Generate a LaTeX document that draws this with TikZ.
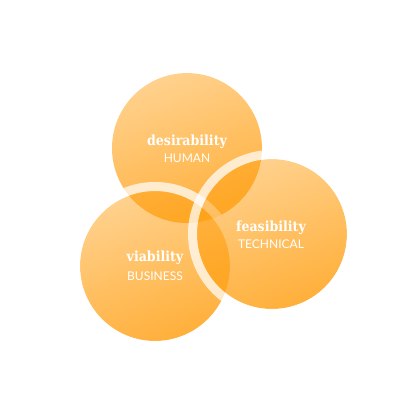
\documentclass[tikz,border=0pt]{standalone}
\usepackage{fontspec}
\setmainfont{DejaVu Serif}
\newfontfamily\titleserif{DejaVu Serif Condensed}
\newfontfamily\labsans{Lato}
\usetikzlibrary{fadings}
\definecolor{circorange}{RGB}{255,160,20}
\tikzfading[name=circfade, top color=transparent!52, bottom color=transparent!16]
\tikzset{
  circfill/.style={fill=circorange, path fading=circfade, fading angle=20},
  ringline/.style={draw=white, draw opacity=0.72, line width=9pt},
  titletext/.style={text=white, anchor=base, font=\titleserif\fontsize{14}{16}\selectfont\bfseries, inner sep=0pt},
  subtext/.style={text=white, anchor=base, font=\labsans\fontsize{12}{14}\selectfont, inner sep=0pt}
}
\begin{document}
\begin{tikzpicture}[x=1pt,y=1pt]
\useasboundingbox (0,0) rectangle (400,400);
\coordinate (D) at (187,252);
\coordinate (V) at (155,134);
\coordinate (F) at (272,166);
% desirability
\path[circfill] (D) circle (75);
% viability
\path[circfill] (V) circle (75);
\path[ringline] (V) circle (79.5);
% feasibility
\path[circfill] (F) circle (75);
\path[ringline] (F) circle (79.5);
% labels
\node[titletext] (dt) at (187,254) {desirability};
\node[subtext] (ds) at (187,237) {HUMAN};
\node[titletext] (ft) at (271,168) {feasibility};
\node[subtext] (fs) at (271,151) {TECHNICAL};
\node[titletext] (vt) at (155,138) {viability};
\node[subtext] (vs) at (155,120) {BUSINESS};
\end{tikzpicture}
\end{document}
